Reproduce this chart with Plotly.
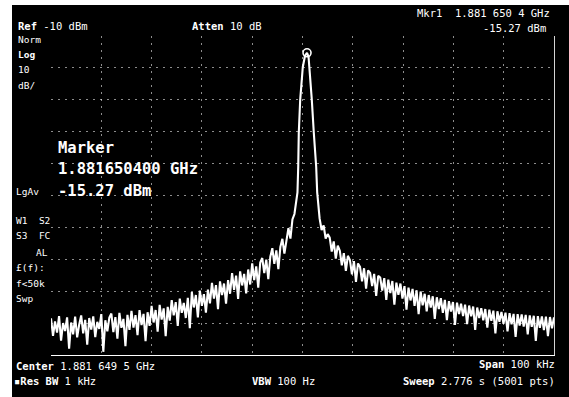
import numpy as np
import plotly.graph_objects as go

# ---------------- data ----------------
# frequency offsets from centre (kHz); centre = 1.881 649 5 GHz, span 100 kHz
span_start_khz = -50.0
span_stop_khz = 50.0

# left skirt / noise, sweep bins from -50 kHz to -1.6 kHz
left_start_khz = -50.0
left_stop_khz = -1.6
left_dbm = [
    -98.5, -104, -99.5, -103, -97.8, -105.5, -100, -102.5, -98.2, -108, -99.8, -103.5, -98, -104.5, -100.5,
    -97.6, -103.2, -99, -106.8, -98.4, -102, -97.9, -104.4, -99.6, -101.8, -97.2, -109, -99.1, -102.6, -98.3,
    -97, -102.8, -98.1, -104.9, -96.8, -101.5, -98.7, -107.2, -97.4, -102.1,
    -96.2, -101.4, -97.5, -103.8, -95.9, -100.6, -97.1, -105.7, -96.6, -100.9,
    -94.6, -99.8, -95.9, -102.7, -94.3, -98.9, -95.4, -104.1, -94.9, -99.2,
    -92.8, -97.6, -93.4, -100.9, -92.3, -96.8, -93.7, -98.4, -92.1, -101.6,
    -90.3, -95.1, -91.2, -98.2, -89.8, -94.6, -90.9, -96.7, -89.5, -93.8,
    -87.4, -92.3, -88.1, -95.6, -86.9, -91.2, -87.6, -93.9, -86.5, -90.8,
    -84.3, -89.6, -85.1, -92.4, -83.8, -88.2, -84.6, -90.7, -83.2, -87.9,
    -81.3, -86.5, -82.2, -88.9, -81,
    -79.6, -84.3, -80.1, -86.2, -79.2,
    -76.5, -81.4, -77.2, -83.1, -76.1,
    -73.6, -78.2, -74.1,
    -70.2, -73.5,
    -67.5, -65.8,
]

# carrier core
core_khz = [-1.3, -1.0, -0.85, -0.74, -0.46, 0.06, 0.5, 0.9, 1.2, 1.39, 1.85, 2.25, 2.72, 2.92, 3.15]
core_dbm = [-63, -59, -51, -40.4, -30, -19.7, -16.2, -15.27, -16.5, -19.7, -30, -40.4, -51, -59, -64]

# right skirt / noise, sweep bins from 3.4 kHz to 50 kHz
right_start_khz = 3.4
right_stop_khz = 50.0
right_dbm = [
    -67.2, -70.8, -69.4, -73.5, -72.1,
    -73.2, -77.6, -74.4, -79.8, -75.7,
    -77.3, -81.9, -78.1, -83.6, -78.9,
    -80.2, -84.7, -80.6, -87.1, -81.3,
    -82.4, -86.9, -82.8, -89.2, -83.5,
    -84.3, -88.4, -84.6, -91.5, -85.2,
    -85.7, -89.8, -85.9, -92.7, -86.4, -90.6, -86.8, -94.2, -87.3, -91.1,
    -87.6, -92.3, -88.4, -95.8, -88.9, -92.9, -89.3, -94.6, -89.7, -97.2,
    -90.1, -94.4, -90.8, -96.3, -91.2, -95.1, -91.6, -98.7, -91.9, -95.6,
    -92.2, -96.8, -92.7, -99.1, -93.1, -96.4, -93.4, -100.6, -93.6, -97.2,
    -93.9, -97.8, -94.2, -100.3, -94.5, -97.9, -94.8, -102.1, -95.1, -98.4,
    -95.3, -99.1, -95.6, -101.4, -95.8, -99.3, -96.1, -103.2, -96.3, -99.6,
    -96.5, -100.2, -96.7, -102.6, -96.9, -100.4, -97.1, -104.3, -97.2, -100.8,
    -97.3, -101.1, -97.4, -103.5, -97.6, -101.2, -97.7, -105.6, -97.8, -101.5,
    -97.9, -102.2, -98, -104.1, -98.1, -101.6, -98.2,
]

marker_khz = 0.9
marker_dbm = -15.27

ref_level_dbm = -10
scale_db_per_div = 10
n_div = 10

# ---------------- build trace ----------------
left_khz = np.linspace(left_start_khz, left_stop_khz, len(left_dbm))
right_khz = np.linspace(right_start_khz, right_stop_khz, len(right_dbm))
freq = np.concatenate([left_khz, core_khz, right_khz])
level = np.concatenate([left_dbm, core_dbm, right_dbm])

W, H = 569, 397
L, R, T, B = 51, 15, 36, 42
PW, PH = W - L - R, H - T - B


def px(x, y):
    return (x - L) / PW, (H - B - y) / PH


fig = go.Figure()
fig.add_trace(go.Scatter(x=freq, y=level, mode="lines",
                         line=dict(color="white", width=2.1), hoverinfo="skip"))
fig.add_trace(go.Scatter(x=[marker_khz], y=[marker_dbm], mode="markers",
                         marker=dict(symbol="circle-open", size=8, color="white",
                                     line=dict(width=1.6, color="white")),
                         hoverinfo="skip"))

shapes = []
# white paper margins (scanned page)
x0, _ = px(0, 0)
xw, _ = px(12, 0)
shapes.append(dict(type="rect", xref="paper", yref="paper", x0=x0 - 0.05, x1=xw,
                   y0=-0.3, y1=1.3, fillcolor="white", line=dict(width=0), layer="below"))
_, yt = px(0, 5)
_, ytop = px(0, -5)
shapes.append(dict(type="rect", xref="paper", yref="paper", x0=-0.2, x1=1.2,
                   y0=yt, y1=ytop + 0.1, fillcolor="white", line=dict(width=0), layer="below"))

MONO = "DejaVu Sans Mono"
ann = []


def text(s, x, y, size=10.5, anchor="left"):
    xp, yp = px(x, y)
    ann.append(dict(text=s, x=xp, y=yp, xref="paper", yref="paper", showarrow=False,
                    xanchor=anchor, yanchor="middle",
                    font=dict(family=MONO, size=size, color="white")))


text("<b>Ref</b> -10 dBm", 16, 26)
text("<b>Atten</b> 10 dB", 190, 26)
text("Mkr1  1.881 650 4 GHz", 552, 13, anchor="right")
text("-15.27 dBm", 548, 28, anchor="right")
text("Norm", 16, 40, size=9.5)
text("<b>Log</b>", 16, 55, size=9.5)
text("10", 16, 69, size=9.5)
text("dB/", 16, 85, size=9.5)
text("<b>Marker</b>", 56, 148, size=15.5)
text("<b>1.881650400 GHz</b>", 56, 169, size=15.5)
text("<b>-15.27 dBm</b>", 56, 191, size=15.5)
text("LgAv", 14, 191, size=9.5)
text("W1  S2", 14, 220, size=9.5)
text("S3  FC", 14, 235, size=9.5)
text("AL", 50, 252, size=9.5, anchor="right")
text("£(f):", 14, 267, size=9.5)
text("f<50k", 14, 283, size=9.5)
text("Swp", 14, 298, size=9.5)
text("<b>Center</b> 1.881 649 5 GHz", 14, 366)
text("<b>Span</b> 100 kHz", 557, 364, anchor="right")
text("▪<b>Res BW</b> 1 kHz", 12, 381)
text("<b>VBW</b> 100 Hz", 250, 381)
text("<b>Sweep</b> 2.776 s (5001 pts)", 557, 381, anchor="right")

grid = dict(showgrid=True, gridcolor="rgba(235,235,235,0.6)", gridwidth=1,
            griddash="2px,5px", zeroline=False, showticklabels=False, ticks="",
            fixedrange=True)

fig.update_layout(
    width=W, height=H,
    margin=dict(l=L, r=R, t=T, b=B, pad=0),
    paper_bgcolor="black", plot_bgcolor="black",
    showlegend=False,
    xaxis=dict(range=[span_start_khz, span_stop_khz], dtick=(span_stop_khz - span_start_khz) / n_div,
               tick0=span_start_khz, showline=True, linecolor="white", linewidth=1, **grid),
    yaxis=dict(range=[ref_level_dbm - n_div * scale_db_per_div, ref_level_dbm],
               dtick=scale_db_per_div, tick0=ref_level_dbm, side="right",
               showline=True, linecolor="rgba(235,235,235,0.9)", linewidth=1, **grid),
    shapes=shapes,
    annotations=ann,
)

fig.write_html("out.html", config={"displayModeBar": False},
               post_script="document.body.style.margin='0';document.body.style.overflow='hidden';")
